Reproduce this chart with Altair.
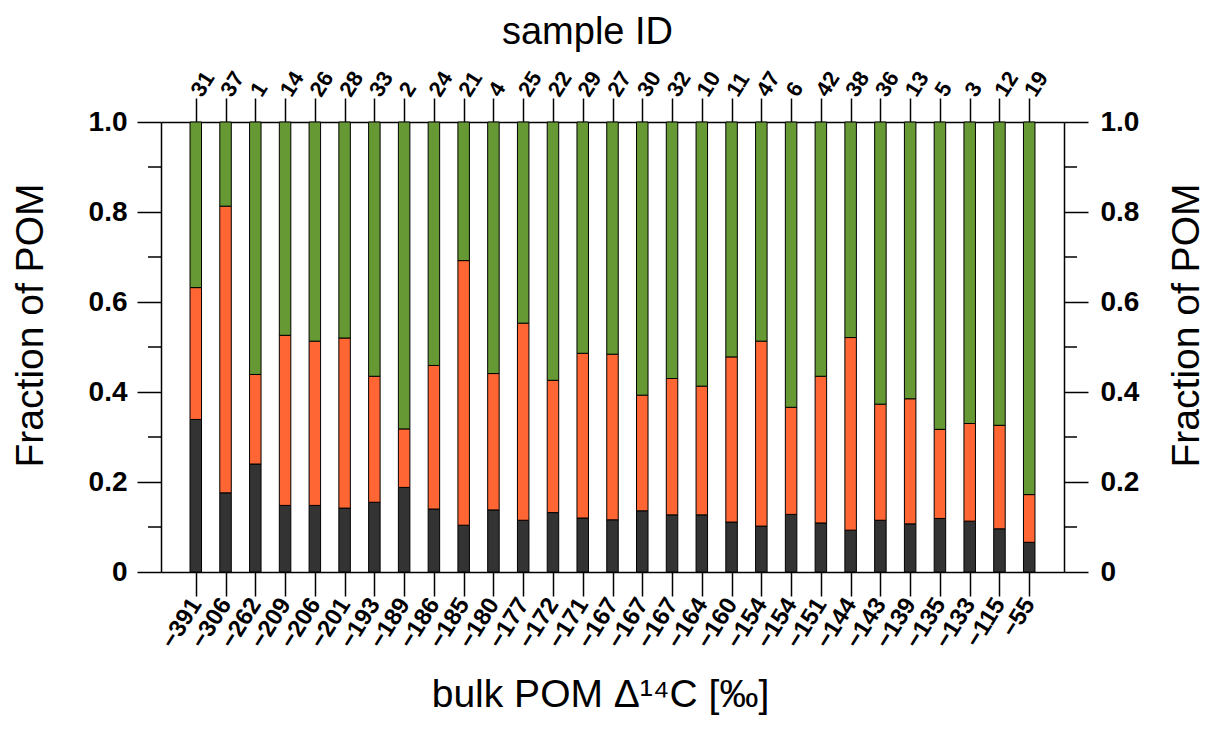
import json
import altair as alt
import pandas as pd

# ---- data ----
sample_ids = ["31", "37", "1", "14", "26", "28", "33", "2", "24", "21", "4", "25", "22", "29",
              "27", "30", "32", "10", "11", "47", "6", "42", "38", "36", "13", "5", "3", "12", "19"]
delta14c = ["−391", "−306", "−262", "−209", "−206", "−201", "−193", "−189", "−186", "−185",
            "−180", "−177", "−172", "−171", "−167", "−167", "−167", "−164", "−160", "−154",
            "−154", "−151", "−144", "−143", "−139", "−135", "−133", "−115", "−55"]
frac_dark = [0.339, 0.176, 0.240, 0.148, 0.148, 0.142, 0.155, 0.188, 0.140, 0.104, 0.138, 0.115,
             0.132, 0.120, 0.116, 0.136, 0.127, 0.127, 0.111, 0.102, 0.128, 0.109, 0.093, 0.115,
             0.107, 0.119, 0.113, 0.096, 0.066]
frac_orange = [0.293, 0.637, 0.199, 0.378, 0.365, 0.378, 0.280, 0.130, 0.319, 0.588, 0.303, 0.438,
               0.294, 0.366, 0.368, 0.257, 0.303, 0.286, 0.367, 0.411, 0.238, 0.326, 0.428, 0.258,
               0.278, 0.198, 0.217, 0.230, 0.106]
frac_green = [0.368, 0.187, 0.561, 0.474, 0.487, 0.480, 0.565, 0.682, 0.541, 0.308, 0.559, 0.447,
              0.574, 0.514, 0.516, 0.607, 0.570, 0.587, 0.522, 0.487, 0.634, 0.565, 0.479, 0.627,
              0.615, 0.683, 0.670, 0.674, 0.828]
components = ["dark", "orange", "green"]
colors = ["#333333", "#FF6633", "#669933"]
major_ticks = [0.0, 0.2, 0.4, 0.6, 0.8, 1.0]
minor_ticks = [0.1, 0.3, 0.5, 0.7, 0.9]

rows = []
for i in range(len(sample_ids)):
    for k, (comp, vals) in enumerate(zip(components, [frac_dark, frac_orange, frac_green])):
        rows.append({"pos": i + 1, "sample": sample_ids[i], "d14c": delta14c[i],
                     "component": comp, "order": k, "fraction": vals[i]})
df = pd.DataFrame(rows)
minor_df = pd.DataFrame({"v": minor_ticks})

FONT = "Liberation Sans"
W, H = 903, 450
positions = list(range(1, len(sample_ids) + 1))

x_scale = alt.Scale(domain=[0, len(sample_ids) + 1], nice=False, zero=False)
y_scale = alt.Scale(domain=[0, 1], nice=False)
y_label_expr = "datum.value == 0 ? '0' : format(datum.value, '.1f')"

common_axis = dict(grid=False, domainColor="black", domainWidth=1.5, tickColor="black",
                   tickWidth=1.5, labelColor="black", labelFont=FONT, titleFont=FONT,
                   titleColor="black", titleFontWeight="normal",
                   labelOverlap=False, labelBound=False, labelFlush=False)

bottom_axis = alt.Axis(orient="bottom", values=positions, tickSize=24,
                       labelExpr=json.dumps(delta14c) + "[datum.value - 1]",
                       labelAngle=-58, labelAlign="right", labelBaseline="middle",
                       labelPadding=4, labelFontSize=24, labelFontWeight="bold",
                       title="bulk POM Δ¹⁴C [‰]", titleFontSize=39, titleX=439, titleY=134,
                       titleAlign="center", titleBaseline="alphabetic", **common_axis)
top_axis = alt.Axis(orient="top", values=positions, tickSize=24,
                    labelExpr=json.dumps(sample_ids) + "[datum.value - 1]",
                    labelAngle=-58, labelAlign="left", labelBaseline="middle",
                    labelPadding=4, labelFontSize=22, labelFontWeight="bold",
                    title="sample ID", titleFontSize=38, titleX=426, titleY=-79,
                    titleAlign="center", titleBaseline="alphabetic", **common_axis)
left_axis = alt.Axis(orient="left", values=major_ticks, tickSize=24, labelExpr=y_label_expr,
                     labelPadding=10, labelFontSize=28, labelFontWeight="bold",
                     labelBaseline="middle",
                     title="Fraction of POM", titleFontSize=39, titleX=-119, titleY=203,
                     titleAngle=270, titleAlign="center", titleBaseline="alphabetic",
                     **common_axis)
right_axis = alt.Axis(orient="right", values=major_ticks, tickSize=24, labelExpr=y_label_expr,
                      labelPadding=12, labelFontSize=28, labelFontWeight="bold",
                      labelBaseline="middle",
                      title="Fraction of POM", titleFontSize=39, titleX=134, titleY=203,
                      titleAngle=270, titleAlign="center", titleBaseline="alphabetic",
                      **common_axis)

color_enc = alt.Color("component:N", scale=alt.Scale(domain=components, range=colors), legend=None)

bars = alt.Chart(df).mark_bar(size=11.5, stroke="black", strokeWidth=1).encode(
    x=alt.X("pos:Q", scale=x_scale, axis=bottom_axis),
    y=alt.Y("fraction:Q", stack="zero", scale=y_scale, axis=left_axis),
    color=color_enc,
    order=alt.Order("order:Q", sort="ascending"),
)

ghost = alt.Chart(df).mark_bar(size=11.5, opacity=0).encode(
    x=alt.X("pos:Q", scale=x_scale, axis=top_axis),
    y=alt.Y("fraction:Q", stack="zero", scale=y_scale, axis=right_axis),
    color=color_enc,
    order=alt.Order("order:Q", sort="ascending"),
)

minor_left = alt.Chart(minor_df).mark_rule(color="black", strokeWidth=1.5).encode(
    y=alt.Y("v:Q", scale=y_scale, axis=None),
    x=alt.value(-13), x2=alt.value(0),
)
minor_right = alt.Chart(minor_df).mark_rule(color="black", strokeWidth=1.5).encode(
    y=alt.Y("v:Q", scale=y_scale, axis=None),
    x=alt.value(W), x2=alt.value(W + 13),
)

chart = alt.layer(bars, ghost, minor_left, minor_right).resolve_axis(
    x="independent", y="independent"
).properties(
    width=W, height=H,
    autosize=alt.AutoSizeParams(type="none"),
    padding={"left": 153, "top": 114, "right": 142, "bottom": 146},
).configure_view(stroke=None).configure(font=FONT, background="white")

chart.save("out.html", embed_options={"renderer": "svg", "actions": False})
